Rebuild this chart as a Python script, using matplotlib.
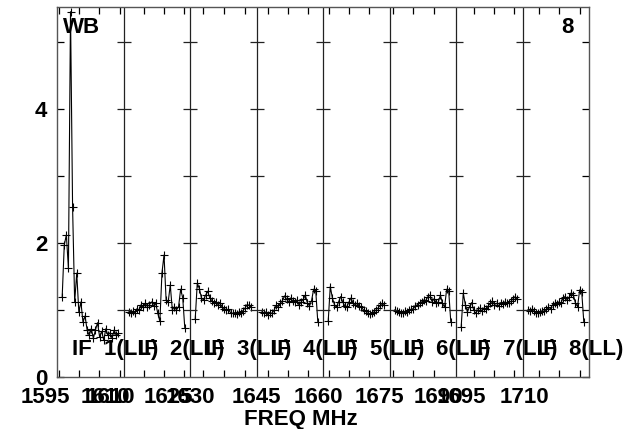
import numpy as np
import matplotlib
matplotlib.use("Agg")
import matplotlib.pyplot as plt
import matplotlib.transforms as mtransforms

## Spectrum data: 8 IFs, channels 2..29 of 32 (LL)
nchan = 32
chans = np.arange(2, 30)

if1 = [1.20, 1.97, 2.12, 1.62, 5.45, 2.53, 1.12, 1.55, 0.97, 1.12, 0.82, 0.91, 0.70, 0.62,
       0.72, 0.58, 0.70, 0.81, 0.60, 0.68, 0.55, 0.72, 0.62, 0.66, 0.58, 0.70, 0.62, 0.65]
if2 = [0.97, 0.95, 0.98, 0.96, 1.02, 1.00, 1.08, 1.04, 1.10, 1.05, 1.08, 1.12, 1.06, 1.10,
       0.95, 0.83, 1.55, 1.82, 1.15, 1.12, 1.37, 1.00, 1.05, 1.00, 1.05, 1.31, 1.18, 0.73]
if3 = [0.86, 1.40, 1.32, 1.18, 1.15, 1.22, 1.28, 1.18, 1.14, 1.10, 1.12, 1.08, 1.10, 1.04,
       1.02, 1.00, 1.01, 0.96, 0.95, 0.96, 0.94, 0.97, 0.96, 0.99, 1.03, 1.08, 1.07, 1.04]
if4 = [0.97, 0.95, 0.97, 0.93, 0.96, 0.95, 1.00, 1.07, 1.05, 1.10, 1.14, 1.21, 1.16, 1.12,
       1.18, 1.13, 1.12, 1.15, 1.07, 1.12, 1.16, 1.22, 1.10, 1.06, 1.14, 1.31, 1.29, 0.82]
if5 = [0.83, 1.35, 1.18, 1.08, 1.04, 1.12, 1.20, 1.12, 1.06, 1.05, 1.12, 1.18, 1.10, 1.08,
       1.10, 1.06, 1.04, 1.00, 0.98, 0.95, 0.94, 0.96, 0.97, 1.00, 1.03, 1.07, 1.10, 1.08]
if6 = [1.00, 0.99, 0.97, 0.95, 0.96, 0.98, 0.97, 1.00, 1.01, 1.02, 1.06, 1.08, 1.10, 1.12,
       1.15, 1.14, 1.20, 1.22, 1.12, 1.17, 1.10, 1.12, 1.22, 1.10, 1.04, 1.31, 1.28, 0.82]
if7 = [0.75, 1.25, 1.08, 0.97, 1.05, 1.11, 1.00, 0.95, 1.00, 1.03, 0.98, 1.03, 1.01, 1.06,
       1.10, 1.13, 1.08, 1.10, 1.06, 1.11, 1.09, 1.12, 1.10, 1.11, 1.13, 1.17, 1.20, 1.16]
if8 = [1.00, 0.99, 1.01, 0.98, 0.96, 0.95, 0.97, 0.99, 0.98, 1.01, 1.04, 1.02, 1.08, 1.10,
       1.09, 1.12, 1.10, 1.18, 1.20, 1.15, 1.19, 1.26, 1.22, 1.10, 1.05, 1.30, 1.27, 0.82]
spectra = [if1, if2, if3, if4, if5, if6, if7, if8]

## Frequency labels (as AIPS draws them, some overlapping) and where they fall
freq_labels = ['1595', '1610', '1610', '1625', '1630', '1645', '1660', '1675', '1690', '1695', '1710']
freq_label_x = [-5.8, 23.1, 25.5, 53.4, 64.0, 95.8, 125.6, 155.0, 183.3, 194.4, 224.7]
freq_ticks = [1.0, 10.6, 20.2, 30.3, 41.9, 51.5, 61.1, 70.3, 80.4, 90.5, 101.5, 111.2, 120.8,
              130.9, 140.5, 150.1, 161.7, 171.3, 181.4, 200.7, 210.3, 219.9, 231.9, 241.6, 251.7]

plt.rcParams['font.family'] = ['Liberation Sans', 'DejaVu Sans']
plt.rcParams['font.weight'] = 'bold'
fs = 16

fig = plt.figure(figsize=(6.26, 4.29), dpi=100)
ax = fig.add_axes([57/626, 52/429, 532/626, 370/429])
nif = len(spectra)
ax.set_xlim(0, nif*nchan)
ax.set_ylim(0, 5.52)

for k, spec in enumerate(spectra):
    x = k*nchan + chans + 0.5
    ax.plot(x, spec, color='black', lw=0.8, marker='+', ms=5.5, mew=0.8, clip_on=True)
    ax.text(k*nchan + 7.0, 0.33, 'IF %2d(LL)' % (k+1), fontsize=fs, fontweight='bold',
            ha='left', va='baseline', clip_on=False)

## IF dividers with cross ticks
for k in range(1, nif):
    ax.axvline(k*nchan, color='#222222', lw=0.9)
    ax.plot([k*nchan]*5, [1, 2, 3, 4, 5], ls='none', marker='_', ms=9.5, mew=0.9, color='#222222')

for s in ax.spines.values():
    s.set_color('#555555')
    s.set_linewidth(1.0)

ax.set_yticks([0, 1, 2, 3, 4, 5])
ax.set_yticklabels(['0', '', '2', '', '4', ''])
ax.tick_params(axis='y', direction='in', length=4.7, width=0.9, left=True, right=True,
               pad=7, labelsize=fs, colors='black')
ax.set_xticks(freq_ticks)
ax.set_xticklabels([])
ax.tick_params(axis='x', direction='in', length=5, width=0.9, top=True, bottom=True)
for lab in ax.get_yticklabels():
    lab.set_fontweight('bold')

trans = mtransforms.blended_transform_factory(ax.transData, ax.transAxes)
for xl, lab in zip(freq_label_x, freq_labels):
    ax.text(xl, -0.0703, lab, transform=trans, fontsize=fs, fontweight='bold',
            ha='center', va='baseline', clip_on=False)

ax.text(0.3506, -0.1297, 'FREQ MHz', transform=ax.transAxes, fontsize=fs,
        fontweight='bold', ha='left', va='baseline')
ax.text(0.011, 0.930, 'WB', transform=ax.transAxes, fontsize=fs, fontweight='bold',
        ha='left', va='baseline')
ax.text(0.972, 0.930, '8', transform=ax.transAxes, fontsize=fs, fontweight='bold',
        ha='right', va='baseline')

fig.savefig('out.png', dpi=100)
